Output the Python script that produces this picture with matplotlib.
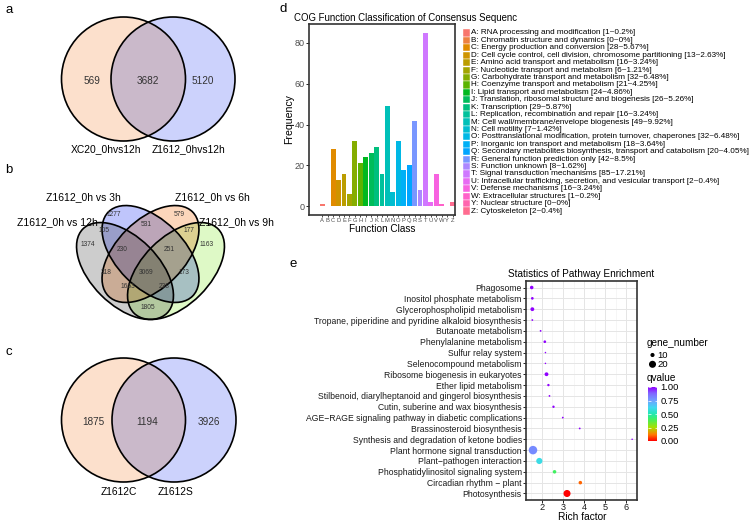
import numpy as np
import matplotlib.pyplot as plt
from matplotlib.patches import Ellipse, Rectangle
from matplotlib.colors import LinearSegmentedColormap, Normalize, to_rgb

plt.rcParams['font.family'] = ['Liberation Sans', 'DejaVu Sans']

W, H = 756, 521

# ---------------- data ----------------
a_names = ['XC20_0hvs12h', 'Z1612_0hvs12h']
a_counts = [569, 3682, 5120]          # left only, both, right only

c_names = ['Z1612C', 'Z1612S']
c_counts = [1875, 1194, 3926]

# four-set venn: 12h, 3h, 6h, 9h
b_names = ['Z1612_0h vs 12h', 'Z1612_0h vs 3h', 'Z1612_0h vs 6h', 'Z1612_0h vs 9h']
b_regions = ['12', '3', '6', '9', '12&3', '3&6', '6&9', '12&9', '12&3&6',
             '3&6&9', '12&6', '3&9', '12&6&9', '12&3&9', 'all']
b_counts = [1374, 1277, 579, 1163, 105, 531, 177, 1805, 230,
            251, 318, 173, 1663, 238, 3069]

cog_class = list('ABCDEFGHIJKLMNOPQRSTUVWYZ')
cog_count = [1, 0, 28, 13, 16, 6, 32, 21, 24, 26, 29, 16, 49, 7, 32, 18, 20,
             42, 8, 85, 2, 16, 1, 0, 2]
cog_pct = ['0.2', '0', '5.67', '2.63', '3.24', '1.21', '6.48', '4.25', '4.86',
           '5.26', '5.87', '3.24', '9.92', '1.42', '6.48', '3.64', '4.05',
           '8.5', '1.62', '17.21', '0.4', '3.24', '0.2', '0', '0.4']
cog_desc = ['RNA processing and modification',
            'Chromatin structure and dynamics',
            'Energy production and conversion',
            'Cell cycle control, cell division, chromosome partitioning',
            'Amino acid transport and metabolism',
            'Nucleotide transport and metabolism',
            'Carbohydrate transport and metabolism',
            'Coenzyme transport and metabolism',
            'Lipid transport and metabolism',
            'Translation, ribosomal structure and biogenesis',
            'Transcription',
            'Replication, recombination and repair',
            'Cell wall/membrane/envelope biogenesis',
            'Cell motility',
            'Posttranslational modification, protein turnover, chaperones',
            'Inorganic ion transport and metabolism',
            'Secondary metabolites biosynthesis, transport and catabolism',
            'General function prediction only',
            'Function unknown',
            'Signal transduction mechanisms',
            'Intracellular trafficking, secretion, and vesicular transport',
            'Defense mechanisms',
            'Extracellular structures',
            'Nuclear structure',
            'Cytoskeleton']

pathways = ['Phagosome', 'Inositol phosphate metabolism',
            'Glycerophospholipid metabolism',
            'Tropane, piperidine and pyridine alkaloid biosynthesis',
            'Butanoate metabolism', 'Phenylalanine metabolism',
            'Sulfur relay system', 'Selenocompound metabolism',
            'Ribosome biogenesis in eukaryotes', 'Ether lipid metabolism',
            'Stilbenoid, diarylheptanoid and gingerol biosynthesis',
            'Cutin, suberine and wax biosynthesis',
            'AGE\u2212RAGE signaling pathway in diabetic complications',
            'Brassinosteroid biosynthesis',
            'Synthesis and degradation of ketone bodies',
            'Plant hormone signal transduction',
            'Plant\u2212pathogen interaction',
            'Phosphatidylinositol signaling system',
            'Circadian rhythm \u2212 plant', 'Photosynthesis']
rich_factor = [1.52, 1.55, 1.55, 1.55, 1.94, 2.14, 2.17, 2.17, 2.22, 2.31,
               2.36, 2.55, 2.99, 3.79, 6.27, 1.58, 1.88, 2.60, 3.82, 3.19]
gene_number = [8, 5, 9, 2, 2, 5, 1, 1, 9, 4, 2, 4, 2, 2, 1, 25, 17, 8, 8, 20]
qvalue = [1.0, 1.0, 1.0, 1.0, 1.0, 1.0, 1.0, 1.0, 1.0, 1.0, 1.0, 1.0, 1.0,
          1.0, 1.0, 0.80, 0.60, 0.40, 0.10, 0.0]
size_breaks = [10, 20]
q_ticks = [0.0, 0.25, 0.5, 0.75, 1.0]


# ---------------- colour helpers ----------------
WP = np.array([0.95047, 1.0, 1.08883])
M_XYZ2RGB = np.array([[3.2406, -1.5372, -0.4986],
                      [-0.9689, 1.8758, 0.0415],
                      [0.0557, -0.2040, 1.0570]])


def hue_pal(n, l=65, c=100):
    # ggplot default discrete hues (HCL)
    out = []
    un = 4 * WP[0] / (WP[0] + 15 * WP[1] + 3 * WP[2])
    vn = 9 * WP[1] / (WP[0] + 15 * WP[1] + 3 * WP[2])
    for h in np.linspace(15, 375, n + 1)[:-1]:
        u, v = c * np.cos(np.radians(h)), c * np.sin(np.radians(h))
        Y = ((l + 16) / 116) ** 3
        up, vp = u / (13 * l) + un, v / (13 * l) + vn
        xyz = np.array([Y * 9 * up / (4 * vp), Y, Y * (12 - 3 * up - 20 * vp) / (4 * vp)])
        lin = M_XYZ2RGB @ xyz
        rgb = np.where(lin <= 0.0031308, 12.92 * lin, 1.055 * np.abs(lin) ** (1 / 2.4) - 0.055)
        out.append(np.clip(rgb, 0, 1))
    return out


q_cmap = LinearSegmentedColormap.from_list('q', [
    (0.0, '#FF0000'), (0.12, '#FF7A00'), (0.25, '#A8E000'), (0.4, '#40F060'),
    (0.5, '#20E8B0'), (0.62, '#40D8F0'), (0.75, '#70A0FF'), (0.88, '#8068FF'),
    (1.0, '#9000FF')])

# ---------------- figure ----------------
fig = plt.figure(figsize=(W / 100, H / 100), dpi=100)


def px_axes(x0, y0, x1, y1):
    return fig.add_axes([x0 / W, 1 - y1 / H, (x1 - x0) / W, (y1 - y0) / H])


# venn panels in pixel units on one blank axes; fills blend multiplicatively
VW = 300
vax = px_axes(0, 0, VW, H)
gx, gy = np.meshgrid(np.arange(0, VW, 0.5) + 0.25, np.arange(0, H, 0.5) + 0.25)
canvas = np.ones(gx.shape + (4,))
canvas[..., 3] = 0


def fill_shape(cx, cy, w, h, ang, col):
    t = np.radians(ang)
    dx, dy = gx - cx, gy - cy
    u = dx * np.cos(t) + dy * np.sin(t)
    v = -dx * np.sin(t) + dy * np.cos(t)
    m = (u / (w / 2)) ** 2 + (v / (h / 2)) ** 2 <= 1
    canvas[m, :3] *= np.array(to_rgb(col))
    canvas[m, 3] = 1
    vax.add_patch(Ellipse((cx, cy), w, h, angle=ang, fc='none', ec='black',
                          lw=1.2, zorder=3))


left_fc, right_fc = '#fde0cc', '#ccd3fd'


def venn2(counts, names, cy, cx_l, cx_r, r, num_x, lab_x, lab_y):
    fill_shape(cx_l, cy, 2 * r, 2 * r, 0, left_fc)
    fill_shape(cx_r, cy, 2 * r, 2 * r, 0, right_fc)
    for n, x in zip(counts, num_x):
        vax.text(x, cy + 2, str(n), ha='center', va='center', fontsize=7.2,
                 color='#333333', zorder=4)
    for nm, x in zip(names, lab_x):
        vax.text(x, lab_y, nm, ha='center', va='center', fontsize=7.4)


venn2(a_counts, a_names, 79, 123.5, 173, 62, [92, 148, 203], [106, 188], 149)
venn2(c_counts, c_names, 420, 123.5, 174, 62, [93, 147, 209], [119, 176], 492)

# four ellipses: 12h grey, 3h blue, 6h orange, 9h green
for (cx, cy), ang, fc in (((125, 271), 45, '#cdcdcd'), ((150.5, 254), 45, '#bfc5fb'),
                          ((150.5, 254), -45, '#fcd6bb'), ((176, 271), -45, '#dff9c6')):
    fill_shape(cx, cy, 119, 68, ang, fc)

vax.imshow(canvas, extent=(0, VW, H, 0), interpolation='antialiased', zorder=1)
vax.set_xlim(0, VW)
vax.set_ylim(H, 0)
vax.set_aspect('auto')
vax.set_axis_off()

b_pos = {'12': (88.3, 244.3), '3': (113.3, 214.3), '6': (179, 214.3),
         '9': (206.7, 244.3), '12&3': (103.7, 231), '3&6': (146, 224),
         '6&9': (189.3, 231), '12&9': (148.3, 307.3), '12&3&6': (121.7, 249.3),
         '3&6&9': (169.3, 249.3), '12&6': (106, 272.3), '3&9': (184.3, 272.3),
         '12&6&9': (128.3, 286.7), '12&3&9': (164.3, 286.7), 'all': (146, 272.3)}
for reg, n in zip(b_regions, b_counts):
    vax.text(*b_pos[reg], str(n), ha='center', va='center', fontsize=4.8,
             color='#333333', zorder=4)
vax.text(57, 222, b_names[0], ha='center', va='center', fontsize=7.5)
vax.text(83, 197, b_names[1], ha='center', va='center', fontsize=7.5)
vax.text(212, 197, b_names[2], ha='center', va='center', fontsize=7.5)
vax.text(199, 222, b_names[3], ha='left', va='center', fontsize=7.5)

# panel letters
for lab, x, y in (('a', 5, 10), ('b', 5, 170), ('c', 5, 352), ('d', 280, 9), ('e', 290, 264)):
    fig.text(x / W, 1 - y / H, lab, fontsize=9.5, ha='left', va='center')

# ---------------- panel d: COG bars ----------------
cog_cols = hue_pal(len(cog_class))
dax = px_axes(309, 24, 455, 215)
xs = np.arange(len(cog_class))
dax.bar(xs, cog_count, width=0.9, color=cog_cols)
dax.set_xlim(-2.45, len(cog_class) - 0.55)
dax.set_ylim(-4.25, 89.25)
dax.set_xticks(xs)
dax.set_xticklabels(cog_class, fontsize=4.2, color='#4d4d4d')
dax.set_yticks([0, 20, 40, 60, 80])
dax.tick_params(axis='y', labelsize=6.5, labelcolor='#4d4d4d', length=2, width=0.6, pad=1)
dax.tick_params(axis='x', length=1.5, width=0.5, pad=0.5)
for s in dax.spines.values():
    s.set_color('#333333')
    s.set_linewidth(1.2)
dax.set_ylabel('Frequency', fontsize=7.6, labelpad=0.5)
dax.set_xlabel('Function Class', fontsize=7.2, labelpad=1)
fig.text(294 / W, 1 - 18 / H, 'COG Function Classification of Consensus Sequenc',
         fontsize=6.9, ha='left', va='center')

# manual legend for d
lax = px_axes(455, 25, 756, 222)
lax.set_xlim(455, 756)
lax.set_ylim(222, 25)
lax.set_axis_off()
for i, (k, d, n, p) in enumerate(zip(cog_class, cog_desc, cog_count, cog_pct)):
    y = 33 + 7.42 * i
    lax.add_patch(Rectangle((463, y - 3.6), 7, 7.2, fc=cog_cols[i], ec='white', lw=0.3))
    lax.text(471, y, f'{k}: {d} [{n}~{p}%]', fontsize=5.88, va='center', ha='left')

# ---------------- panel e: pathway dot plot ----------------
gmin, gmax = min(gene_number), max(gene_number)


def dot_size(n):
    d_px = 1.5 + 7.0 * (np.asarray(n) - gmin) / (gmax - gmin)
    return (d_px * 0.72) ** 2


eax = px_axes(526, 281, 637, 500)
ys = np.arange(len(pathways))[::-1] + 1
sc = eax.scatter(rich_factor, ys, s=dot_size(gene_number), c=qvalue,
                 cmap=q_cmap, norm=Normalize(0, 1), zorder=3, linewidths=0)
eax.set_xlim(1.25, 6.45)
eax.set_ylim(0.4, len(pathways) + 0.6)
eax.set_yticks(ys)
eax.set_yticklabels(pathways, fontsize=6.2, color='#1a1a1a')
eax.set_xticks([2, 3, 4, 5, 6])
eax.set_xticks(np.arange(1.5, 6.6, 1), minor=True)
eax.tick_params(axis='x', labelsize=6.6, labelcolor='#1a1a1a', length=2, width=0.6, pad=0.5)
eax.tick_params(axis='y', length=2, width=0.6, pad=1)
eax.tick_params(which='minor', length=0)
eax.grid(which='major', color='#e5e5e5', lw=0.7)
eax.grid(which='minor', axis='x', color='#f0f0f0', lw=0.4)
eax.set_axisbelow(True)
for s in eax.spines.values():
    s.set_color('#333333')
    s.set_linewidth(1.2)
eax.set_title('Statistics of Pathway Enrichment', fontsize=7.2, pad=3)
fig.text(582 / W, 1 - 517 / H, 'Rich factor', fontsize=7.3, ha='center', va='center')

# legend for e
gax = px_axes(640, 335, 756, 375)
gax.set_xlim(640, 756)
gax.set_ylim(375, 335)
gax.set_axis_off()
gax.text(647, 343, 'gene_number', fontsize=7.2, va='center')
gax.scatter([652.5, 652.5], [355, 364.3], s=dot_size(size_breaks), c='black', linewidths=0)
for b, y in zip(size_breaks, [355, 364.3]):
    gax.text(657.5, y, str(b), fontsize=6.8, va='center')
fig.text(647 / W, 1 - 378 / H, 'qvalue', fontsize=7.2, va='center')
cax = px_axes(648, 387, 657, 441)
cb = fig.colorbar(sc, cax=cax, ticks=q_ticks)
cb.outline.set_visible(False)
cb.ax.set_yticklabels([f'{t:.2f}' for t in q_ticks])
cb.ax.tick_params(labelsize=6.8, direction='in', length=1.8, width=0.5,
                  color='white', left=True, right=True, pad=2.5)

fig.savefig('out.png', dpi=100)
